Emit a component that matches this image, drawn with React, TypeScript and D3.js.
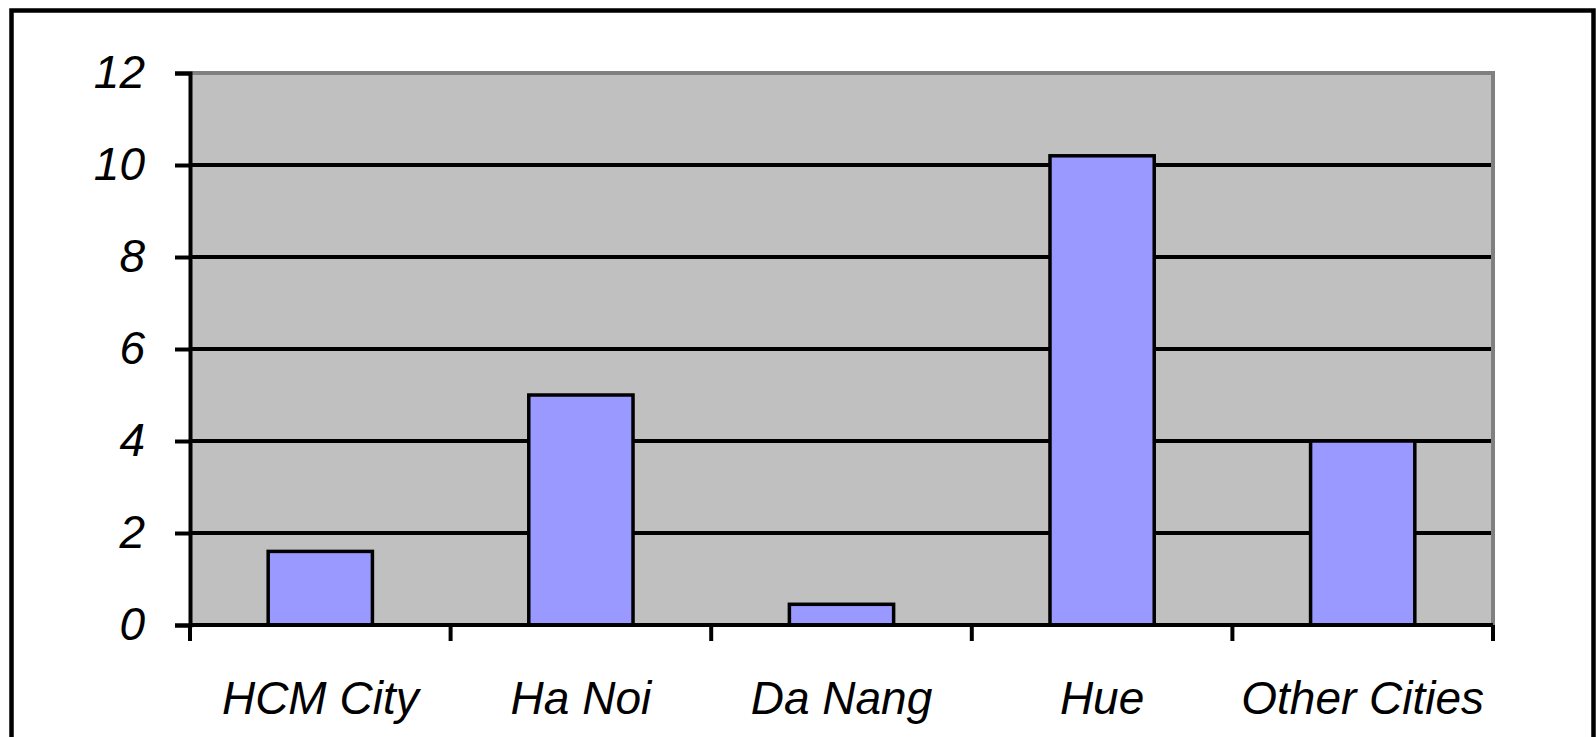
import { useEffect, useRef } from "react";
import * as d3 from "d3";

const categories = ["HCM City", "Ha Noi", "Da Nang", "Hue", "Other Cities"];
const values = [1.6, 5.0, 0.45, 10.2, 4.0];
const yTicks = [0, 2, 4, 6, 8, 10, 12];

const WIDTH = 1596;
const HEIGHT = 737;

export default function App() {
  const svgRef = useRef<SVGSVGElement>(null);

  useEffect(() => {
    if (!svgRef.current) return;
    const svg = d3.select(svgRef.current);
    svg.selectAll("*").remove();

    const plot = { left: 190, top: 73, right: 1493, bottom: 625 };
    const font = "'Liberation Sans', Arial, sans-serif";

    // outer chart frame
    svg
      .append("rect")
      .attr("x", 11.5)
      .attr("y", 10.5)
      .attr("width", 1582)
      .attr("height", 760)
      .attr("fill", "#fff")
      .attr("stroke", "#000")
      .attr("stroke-width", 4.5);

    const x = d3
      .scaleBand<string>()
      .domain(categories)
      .range([plot.left, plot.right])
      .paddingInner(0.6)
      .paddingOuter(0.3);

    const y = d3.scaleLinear().domain([0, 12]).range([plot.bottom, plot.top]);

    // plot area
    svg
      .append("rect")
      .attr("x", plot.left)
      .attr("y", plot.top)
      .attr("width", plot.right - plot.left)
      .attr("height", plot.bottom - plot.top)
      .attr("fill", "#c0c0c0");

    svg
      .append("path")
      .attr("d", `M${plot.left},${plot.top}H${plot.right}V${plot.bottom}`)
      .attr("fill", "none")
      .attr("stroke", "#808080")
      .attr("stroke-width", 4);

    // gridlines
    svg
      .append("g")
      .selectAll("line")
      .data(yTicks.filter((t) => t > 0 && t < 12))
      .enter()
      .append("line")
      .attr("x1", plot.left)
      .attr("x2", plot.right - 2)
      .attr("y1", (d) => y(d))
      .attr("y2", (d) => y(d))
      .attr("stroke", "#000")
      .attr("stroke-width", 4);

    // bars
    svg
      .append("g")
      .selectAll("rect")
      .data(categories)
      .enter()
      .append("rect")
      .attr("x", (d) => x(d) ?? 0)
      .attr("width", x.bandwidth())
      .attr("y", (_d, i) => y(values[i]))
      .attr("height", (_d, i) => plot.bottom - y(values[i]))
      .attr("fill", "#9999ff")
      .attr("stroke", "#000")
      .attr("stroke-width", 3.5);

    // y axis
    const yAxis = svg
      .append("g")
      .attr("transform", `translate(${plot.left},0)`)
      .call(d3.axisLeft(y).tickValues(yTicks).tickSize(15).tickPadding(30).tickFormat(d3.format("d")));
    yAxis.select(".domain").attr("stroke", "#000").attr("stroke-width", 4);
    yAxis.selectAll(".tick line").attr("stroke", "#000").attr("stroke-width", 4);
    yAxis
      .selectAll(".tick text")
      .attr("fill", "#000")
      .style("font-family", font)
      .style("font-style", "italic")
      .style("font-size", "46px");

    // x axis
    const step = x.step();
    const boundaries = d3.range(categories.length + 1).map((i) => plot.left + i * step);
    const xAxis = svg.append("g");
    xAxis
      .append("line")
      .attr("x1", plot.left)
      .attr("x2", plot.right)
      .attr("y1", plot.bottom)
      .attr("y2", plot.bottom)
      .attr("stroke", "#000")
      .attr("stroke-width", 4);
    xAxis
      .selectAll(".xtick")
      .data(boundaries)
      .enter()
      .append("line")
      .attr("x1", (d) => d)
      .attr("x2", (d) => d)
      .attr("y1", plot.bottom)
      .attr("y2", plot.bottom + 16)
      .attr("stroke", "#000")
      .attr("stroke-width", 4);
    xAxis
      .selectAll("text")
      .data(categories)
      .enter()
      .append("text")
      .attr("x", (d) => (x(d) ?? 0) + x.bandwidth() / 2)
      .attr("y", 714)
      .attr("text-anchor", "middle")
      .attr("fill", "#000")
      .style("font-family", font)
      .style("font-style", "italic")
      .style("font-size", "46px")
      .text((d) => d);
  }, []);

  return (
    <svg
      ref={svgRef}
      width={WIDTH}
      height={HEIGHT}
      style={{ position: "absolute", left: 0, top: 0, display: "block" }}
    />
  );
}
